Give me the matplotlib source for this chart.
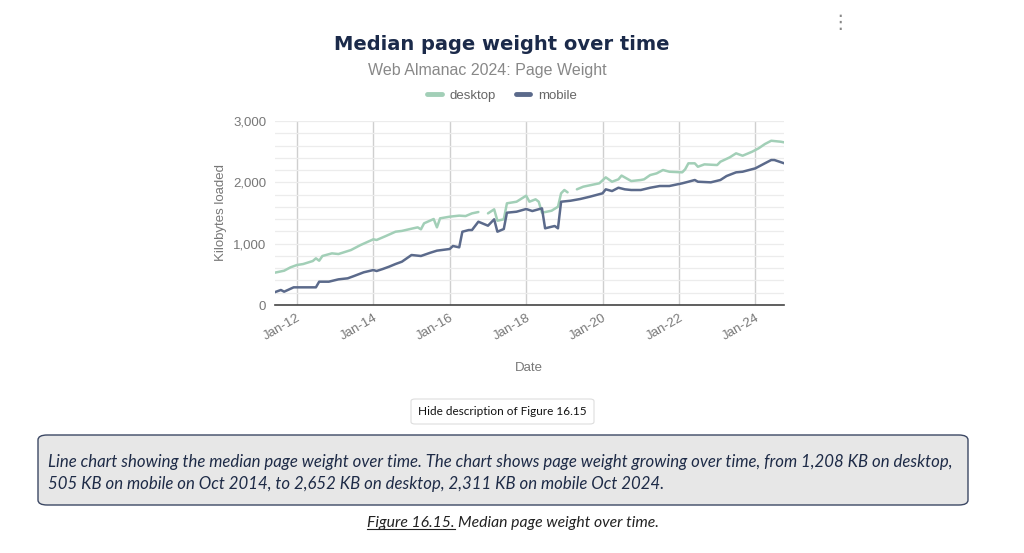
import numpy as np
import pandas as pd
import matplotlib
matplotlib.use("Agg")
import matplotlib.pyplot as plt
import matplotlib.dates as mdates
from matplotlib.ticker import FuncFormatter, MultipleLocator
from matplotlib.patches import FancyBboxPatch

nan = np.nan

# values (KB)
desktop_dates = ["2011-06", "2011-09", "2011-11", "2012-01", "2012-03", "2012-06", "2012-07", "2012-08",
                 "2012-09", "2012-12", "2013-02", "2013-06", "2013-09", "2014-01", "2014-02", "2014-05",
                 "2014-08", "2014-10", "2015-01", "2015-03", "2015-04", "2015-05", "2015-08", "2015-09",
                 "2015-10", "2016-01", "2016-04", "2016-06", "2016-08", "2016-10", "2016-11", "2017-01",
                 "2017-03", "2017-04", "2017-06", "2017-07", "2017-10", "2018-01", "2018-02", "2018-04",
                 "2018-05", "2018-06", "2018-09", "2018-11", "2018-12", "2019-01", "2019-02", "2019-03",
                 "2019-05", "2019-07", "2019-12", "2020-02", "2020-04", "2020-06", "2020-07", "2020-10",
                 "2021-01", "2021-02", "2021-04", "2021-06", "2021-08", "2021-10", "2022-02", "2022-03",
                 "2022-04", "2022-06", "2022-07", "2022-09", "2023-01", "2023-02", "2023-05", "2023-07",
                 "2023-09", "2023-12", "2024-02", "2024-04", "2024-06", "2024-09", "2024-10"]
desktop_kb = [526, 559, 614, 652, 668, 717, 761, 722,
              799, 842, 831, 896, 978, 1071, 1060, 1125,
              1195, 1208, 1244, 1266, 1234, 1332, 1402, 1266,
              1413, 1440, 1457, 1450, 1494, 1516, nan, 1494,
              1560, 1374, 1397, 1658, 1684, 1782, 1684, 1723,
              1684, 1505, 1537, 1602, 1821, 1875, 1837, nan,
              1886, 1929, 1984, 2081, 2010, 2049, 2110, 2021,
              2038, 2049, 2119, 2146, 2201, 2173, 2163, 2212,
              2310, 2310, 2254, 2293, 2282, 2336, 2407, 2473,
              2434, 2499, 2554, 2624, 2678, 2662, 2652]

mobile_dates = ["2011-06", "2011-08", "2011-09", "2011-12", "2012-03", "2012-07", "2012-08", "2012-11",
                "2013-02", "2013-05", "2013-07", "2013-10", "2014-01", "2014-02", "2014-04", "2014-06",
                "2014-08", "2014-10", "2015-01", "2015-04", "2015-07", "2015-09", "2016-01", "2016-02",
                "2016-04", "2016-05", "2016-07", "2016-08", "2016-10", "2017-01", "2017-03", "2017-04",
                "2017-06", "2017-07", "2017-10", "2018-01", "2018-03", "2018-06", "2018-07", "2018-09",
                "2018-10", "2018-11", "2018-12", "2019-03", "2019-06", "2019-09", "2020-01", "2020-02",
                "2020-04", "2020-06", "2020-08", "2020-10", "2021-01", "2021-04", "2021-07", "2021-10",
                "2022-02", "2022-04", "2022-06", "2022-07", "2022-11", "2023-02", "2023-04", "2023-07",
                "2023-09", "2024-01", "2024-04", "2024-06", "2024-07", "2024-10"]
mobile_kb = [207, 245, 217, 288, 288, 288, 380, 380,
             418, 435, 473, 533, 570, 554, 587, 625,
             668, 706, 815, 799, 853, 886, 913, 962,
             940, 1195, 1222, 1222, 1358, 1293, 1397, 1195,
             1239, 1505, 1521, 1565, 1532, 1576, 1250, 1276,
             1288, 1250, 1684, 1700, 1728, 1765, 1821, 1886,
             1858, 1912, 1886, 1875, 1875, 1912, 1940, 1940,
             1984, 2010, 2038, 2010, 2000, 2038, 2103, 2163,
             2173, 2228, 2310, 2364, 2364, 2311]

desc_lines = ["Line chart showing the median page weight over time. The chart shows page weight growing over time, from 1,208 KB on desktop,",
              "505 KB on mobile on Oct 2014, to 2,652 KB on desktop, 2,311 KB on mobile Oct 2024."]

desktop_color = "#a2cfb7"
mobile_color = "#5b6a8b"
grey = "#777777"
navy = "#1b2a4a"

d_x = pd.to_datetime(desktop_dates)
m_x = pd.to_datetime(mobile_dates)

fig = plt.figure(figsize=(10.24, 5.53), dpi=100)
ax = fig.add_axes([274.5 / 1024, 1 - 305 / 553, (784 - 274.5) / 1024, (305 - 121) / 553])

ax.plot(d_x, desktop_kb, color=desktop_color, lw=1.8, label="desktop", solid_capstyle="round")
ax.plot(m_x, mobile_kb, color=mobile_color, lw=1.8, label="mobile", solid_capstyle="round")

ax.set_xlim(d_x[0], d_x[-1])
ax.set_ylim(0, 3000)
ax.yaxis.set_major_locator(MultipleLocator(1000))
ax.yaxis.set_minor_locator(MultipleLocator(200))
ax.yaxis.set_major_formatter(FuncFormatter(lambda v, p: f"{v:,.0f}"))
ax.xaxis.set_major_locator(mdates.YearLocator(2))
ax.xaxis.set_major_formatter(mdates.DateFormatter("%b-%y"))

ax.grid(axis="y", which="both", color="#ececec", lw=0.9)
ax.grid(axis="x", which="major", color="#cfcfcf", lw=1.0)
ax.set_axisbelow(True)
for s in ["top", "right", "left"]:
    ax.spines[s].set_visible(False)
ax.spines["bottom"].set_color("#444444")
ax.spines["bottom"].set_linewidth(1.2)
ax.tick_params(axis="both", which="both", length=0, labelcolor=grey)
ax.tick_params(axis="y", pad=6, labelsize=9.5)
ax.tick_params(axis="x", pad=5, labelsize=9.5)
for lab in ax.get_xticklabels():
    lab.set_rotation(30)
    lab.set_ha("right")
    lab.set_rotation_mode("anchor")
for lab in ax.get_xticklabels() + ax.get_yticklabels():
    lab.set_family("Liberation Sans")

ax.set_ylabel("Kilobytes loaded", color=grey, fontsize=9.5, family="Liberation Sans", labelpad=4)
ax.set_xlabel("Date", color=grey, fontsize=9.5, family="Liberation Sans", labelpad=14)

leg = fig.legend(loc="center", bbox_to_anchor=(502 / 1024, 1 - 96 / 553), ncol=2, frameon=False,
                 handlelength=1.1, columnspacing=1.5, handletextpad=0.6,
                 prop={"family": "Liberation Sans", "size": 9.5})
for t in leg.get_texts():
    t.set_color("#666666")
for h in leg.legend_handles:
    h.set_linewidth(3.5)

fig.text(502 / 1024, 1 - 45 / 553, "Median page weight over time", ha="center", va="center",
         fontsize=14, fontweight="bold", family="DejaVu Sans", color=navy)
fig.text(487 / 1024, 1 - 70 / 553, "Web Almanac 2024: Page Weight", ha="center", va="center",
         fontsize=11.5, family="Liberation Sans", color="#888888")

fig.text(840 / 1024, 1 - 23 / 553, "\u22ee", ha="center", va="center", fontsize=14, color="#888888",
         family="DejaVu Sans")

# button
btn = FancyBboxPatch((411 / 1024, 1 - 424 / 553), 183 / 1024, 25 / 553,
                     boxstyle="round,pad=0,rounding_size=0.004", transform=fig.transFigure,
                     facecolor="white", edgecolor="#dddddd", lw=0.8)
fig.patches.append(btn)
fig.text(502.5 / 1024, 1 - 411.5 / 553, "Hide description of Figure 16.15", ha="center", va="center",
         fontsize=8.5, family="Lato", color="#111111")

# description box
box = FancyBboxPatch((38 / 1024, 1 - 505 / 553), 930 / 1024, 70 / 553,
                     boxstyle="round,pad=0,rounding_size=0.009", transform=fig.transFigure,
                     facecolor="#e7e7e7", edgecolor="#3c4864", lw=1.0)
fig.patches.append(box)
fig.text(48 / 1024, 1 - 462 / 553, desc_lines[0], ha="left", va="center", fontsize=12.1,
         family="Lato", style="italic", color="#1e2b47")
fig.text(48 / 1024, 1 - 484 / 553, desc_lines[1], ha="left", va="center", fontsize=12.1,
         family="Lato", style="italic", color="#1e2b47")

# caption with underlined figure number
cap1 = fig.text(367 / 1024, 1 - 523 / 553, "Figure 16.15.", ha="left", va="center", fontsize=11.3,
                family="Lato", style="italic", color="#222222")
fig.canvas.draw()
r = fig.canvas.get_renderer()
bb = cap1.get_window_extent(r)
fig.text(bb.x1 / 1024 + 3 / 1024, 1 - 523 / 553, "Median page weight over time.", ha="left", va="center",
         fontsize=11.3, family="Lato", style="italic", color="#222222")
fig.add_artist(plt.Line2D([bb.x0 / 1024, bb.x1 / 1024], [(bb.y0 + 1) / 553, (bb.y0 + 1) / 553],
                          transform=fig.transFigure, color="#222222", lw=0.8))

fig.savefig("out.png", dpi=100)
